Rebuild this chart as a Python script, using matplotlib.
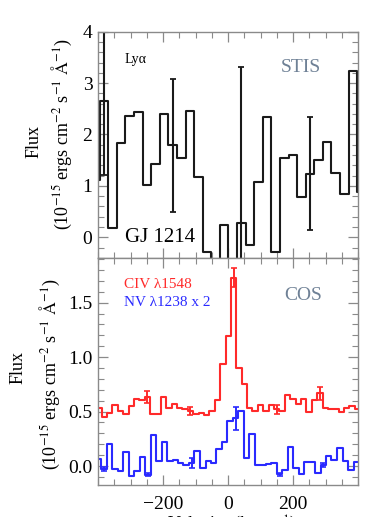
import matplotlib
matplotlib.use("Agg")
import matplotlib.pyplot as plt
from matplotlib.ticker import MultipleLocator, FixedLocator, FormatStrFormatter

plt.rcParams['font.family'] = ['Liberation Serif', 'DejaVu Serif']
plt.rcParams['mathtext.fontset'] = 'stix'

# ---------------- data ----------------
lya_vel = [-408, -381, -355, -329, -302, -276, -250, -223, -197, -171, -144, -118, -91, -65,
           -39, -12, 14, 41, 67, 93, 120, 146, 172, 199, 225, 252, 278, 304, 331, 357, 384, 410]
lya_flux = [1.12, 2.65, 0.17, 1.83, 2.35, 2.43, 1.01, 1.42, 2.40, 1.79, 1.55, 2.46, 1.18, -0.29,
            -1.0, 0.23, -1.0, 0.27, -0.15, 1.07, 2.34, -0.29, 1.55, 1.60, 0.78, 1.24, 1.50, 1.86,
            1.25, 0.84, 3.24, 0.88]
lya_err_vel = [-381, -171, 41, 252]
lya_err_flux = [2.65, 1.79, 0.27, 1.24]
lya_err = [1.43, 1.29, 3.04, 1.10]

civ_vel = [-397, -380, -364, -347, -331, -314, -298, -281, -265, -248, -231, -215, -198, -182,
           -165, -149, -132, -116, -99, -83, -66, -49, -33, -16, 0, 17, 33, 50, 66, 83, 100, 116,
           133, 149, 166, 182, 199, 215, 232, 249, 265, 282, 298, 315, 331, 348, 364, 381, 397]
civ_flux = [0.535, 0.453, 0.484, 0.56, 0.505, 0.475, 0.551, 0.615, 0.606, 0.636, 0.475, 0.475,
            0.636, 0.535, 0.566, 0.535, 0.525, 0.505, 0.475, 0.484, 0.47, 0.505, 0.606, 0.94,
            1.19, 1.73, 0.90, 0.75, 0.535, 0.505, 0.56, 0.505, 0.56, 0.52, 0.505, 0.65, 0.615,
            0.566, 0.615, 0.50, 0.606, 0.67, 0.535, 0.52, 0.52, 0.50, 0.53, 0.55, 0.525]
civ_err_vel = [-248, -116, 17, 149, 282]
civ_err_flux = [0.636, 0.505, 1.73, 0.52, 0.67]
civ_err = [0.056, 0.035, 0.09, 0.04, 0.06]

nv_vel = [-398, -382, -365, -348, -331, -314, -297, -280, -264, -247, -230, -213, -196, -179,
          -162, -146, -129, -112, -95, -78, -61, -45, -28, -11, 6, 23, 40, 57, 73, 90, 107, 124,
          141, 158, 175, 191, 208, 225, 242, 259, 276, 293, 309, 326, 343, 360, 377, 394, 411]
nv_flux = [0.064, -0.03, 0.20, -0.03, -0.05, 0.13, -0.09, -0.05, 0.08, -0.08, 0.285, 0.046,
           0.22, 0.046, 0.055, 0.03, 0.009, 0.03, 0.138, -0.015, 0.046, 0.025, 0.16, 0.217,
           0.413, 0.438, 0.505, 0.077, 0.29, 0.009, 0.009, 0.015, 0.03, -0.076, -0.037, 0.177,
           -0.015, -0.077, 0.04, 0.04, -0.067, 0.009, 0.088, 0.055, 0.165, 0.05, -0.04, 0.034,
           0.034]
nv_err_vel = [-382, -247, -112, 23, 158, 293]
nv_err_flux = [-0.03, -0.08, 0.03, 0.438, -0.076, 0.009]
nv_err = [0.02, 0.012, 0.046, 0.105, 0.015, 0.02]

x_major = [-200, 0, 200]

# ---------------- figure ----------------
W, H = 388, 517
fig = plt.figure(figsize=(W / 100, H / 100), dpi=100)
L, R = 98 / W, 358.3 / W
ax1 = fig.add_axes([L, 1 - 258.3 / H, R - L, (258.3 - 31.7) / H])
ax2 = fig.add_axes([L, 1 - 485 / H, R - L, (485 - 258.3) / H])

spine_c = '#8a8a8a'
for ax in (ax1, ax2):
    ax.set_xlim(-400, 400)
    for s in ax.spines.values():
        s.set_color(spine_c)
        s.set_linewidth(1.0)
    ax.xaxis.set_major_locator(FixedLocator(x_major))
    ax.xaxis.set_minor_locator(MultipleLocator(50))
    ax.tick_params(which='both', direction='in', top=True, right=True, color=spine_c,
                   labelsize=14)
    ax.tick_params(which='major', length=7, width=0.9)
    ax.tick_params(which='minor', length=4, width=0.8)
    ax.tick_params(axis='y', pad=4)
    ax.tick_params(axis='x', pad=8)

# top panel
ax1.set_ylim(-0.41, 4.0)
ax1.yaxis.set_major_locator(MultipleLocator(1))
ax1.yaxis.set_minor_locator(MultipleLocator(0.2))
ax1.tick_params(labelbottom=False)
ax1.step(lya_vel, lya_flux, where='mid', color='#1a1a1a', lw=1.5)
ax1.errorbar(lya_err_vel, lya_err_flux, yerr=lya_err, fmt='none', ecolor='#1a1a1a',
             elinewidth=1.5, capsize=2.5, capthick=1.3)

fig.text(125 / W, 1 - 237 / H, 'GJ 1214', fontsize=15, va='center', ha='left')
fig.text(125 / W, 1 - 60 / H, 'Lyα', fontsize=10, va='center', ha='left')
fig.text(301 / W, 1 - 68 / H, 'STIS', fontsize=14, va='center', ha='center', color='#6f8196')

# bottom panel
ax2.set_ylim(-0.174, 1.907)
ax2.yaxis.set_major_locator(MultipleLocator(0.5))
ax2.yaxis.set_minor_locator(MultipleLocator(0.1))
ax2.yaxis.set_major_formatter(FormatStrFormatter('%.1f'))
ax2.step(civ_vel, civ_flux, where='mid', color='#ff2a2a', lw=1.5)
ax2.errorbar(civ_err_vel, civ_err_flux, yerr=civ_err, fmt='none', ecolor='#ff2a2a',
             elinewidth=1.4, capsize=2.5, capthick=1.2)
ax2.step(nv_vel, nv_flux, where='mid', color='#2a2aff', lw=1.5)
ax2.errorbar(nv_err_vel, nv_err_flux, yerr=nv_err, fmt='none', ecolor='#2a2aff',
             elinewidth=1.4, capsize=2.5, capthick=1.2)

fig.text(124 / W, 1 - 284 / H, 'CIV λ1548', fontsize=11, va='center', ha='left', color='#ff2a2a')
fig.text(124 / W, 1 - 302 / H, 'NV λ1238 x 2', fontsize=11, va='center', ha='left', color='#2a2aff')
fig.text(303 / W, 1 - 295 / H, 'COS', fontsize=14, va='center', ha='center', color='#6f8196')

ylab2 = '(10$^{-15}$ ergs cm$^{-2}$ s$^{-1}$ $\\mathrm{\\AA}^{-1}$)'
fig.text(34 / W, 1 - 142 / H, 'Flux', rotation=90, fontsize=13, va='center', ha='center')
fig.text(62 / W, 1 - 134 / H, ylab2, rotation=90, fontsize=13, va='center', ha='center')
fig.text(18 / W, 1 - 367 / H, 'Flux', rotation=90, fontsize=13, va='center', ha='center')
fig.text(50 / W, 1 - 374 / H, ylab2, rotation=90, fontsize=13, va='center', ha='center')

# x-axis title sits at the very bottom edge, mostly cut off as in the reference
fig.text(232 / W, 1 - 514 / H, 'Velocity (km s$^{-1}$)', fontsize=13, va='top', ha='center')

fig.savefig('out.png', dpi=100)
